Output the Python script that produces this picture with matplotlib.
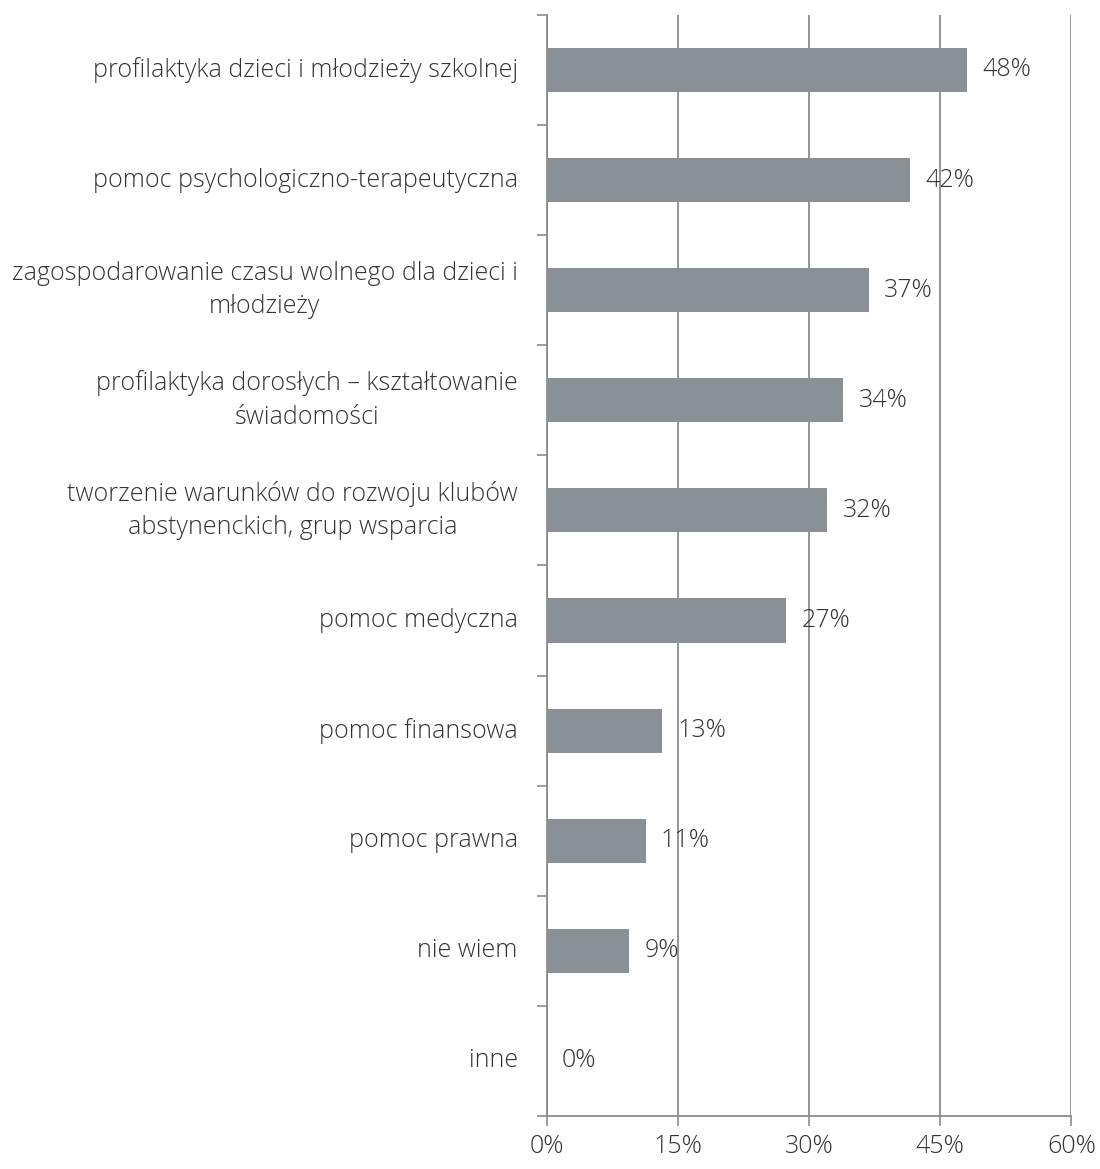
import matplotlib.pyplot as plt
import numpy as np

# Data
categories = [
    'profilaktyka dzieci i młodzieży szkolnej',
    'pomoc psychologiczno-terapeutyczna',
    'zagospodarowanie czasu wolnego dla dzieci i\nmłodzieży',
    'profilaktyka dorosłych – kształtowanie\nświadomości',
    'tworzenie warunków do rozwoju klubów\nabstynenckich, grup wsparcia',
    'pomoc medyczna',
    'pomoc finansowa',
    'pomoc prawna',
    'nie wiem',
    'inne',
]
values = [48.1, 41.6, 36.8, 33.9, 32.1, 27.4, 13.2, 11.3, 9.4, 0]
labels = ['48%', '42%', '37%', '34%', '32%', '27%', '13%', '11%', '9%', '0%']
xticks = [0, 15, 30, 45, 60]

plt.rcParams['font.family'] = ['Open Sans', 'DejaVu Sans']
txt_color = '#333333'
fs = 18

fig = plt.figure(figsize=(11, 11.69), dpi=100)
ax = fig.add_axes([0.497, 0.0453, 0.477, 0.942])

y = np.arange(len(categories))
ax.barh(y, values, height=0.4, color='#8a9096', zorder=3)

# value labels just right of each bar
for yi, v, lab in zip(y, values, labels):
    ax.annotate(lab, (v, yi), xytext=(11, 0), textcoords='offset points',
                va='center', ha='left', fontsize=fs, color=txt_color,
                fontweight='light', zorder=4)

ax.set_xlim(0, 60)
ax.set_ylim(len(categories) - 0.5, -0.5)
ax.set_xticks(xticks)
ax.set_xticklabels([f'{t}%' for t in xticks], fontsize=fs, color=txt_color,
                   fontweight='light')

# category labels drawn as text, ticks at the boundaries
ax.set_yticks(np.arange(len(categories) + 1) - 0.5)
ax.set_yticklabels([])
for yi, cat in zip(y, categories):
    ax.text(-0.055, yi, cat, transform=ax.get_yaxis_transform(), ha='right',
            va='center', fontsize=fs, color=txt_color, fontweight='light',
            multialignment='center', linespacing=1.45)

ax.tick_params(axis='y', length=7, width=1.2, color='#8c8c8c', direction='out')
ax.tick_params(axis='x', length=7, width=1.2, color='#8c8c8c', direction='out', pad=6)

ax.grid(axis='x', color='#8c8c8c', linewidth=1.3, zorder=0)
for side in ['top', 'right']:
    ax.spines[side].set_visible(False)
for side in ['left', 'bottom']:
    ax.spines[side].set_color('#8c8c8c')
    ax.spines[side].set_linewidth(1.3)

plt.savefig('out.png', dpi=100)
